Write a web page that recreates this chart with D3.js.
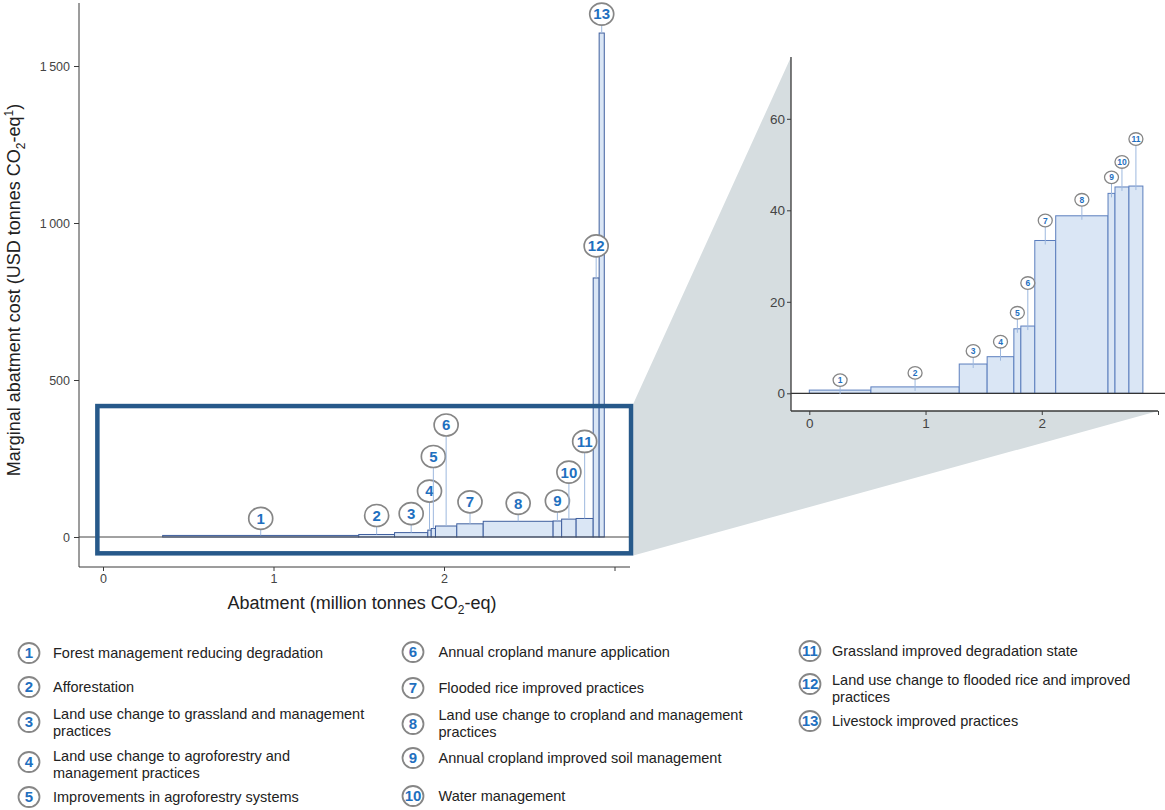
<!DOCTYPE html>
<html>
<head>
<meta charset="utf-8">
<script src="https://cdn.jsdelivr.net/npm/d3@7"></script>
<style>
  body { margin: 0; background: #fff; }
  svg { display: block; font-family: "Liberation Sans", Arial, Helvetica, sans-serif; }
</style>
</head>
<body>
<svg id="chart" width="1165" height="810"></svg>
<script>
// ---- Data -------------------------------------------------------------
// Mitigation measures, numbered in merit order (cheapest first)
const measureNames = [
  "Forest management reducing degradation",
  "Afforestation",
  "Land use change to grassland and management\npractices",
  "Land use change to agroforestry and\nmanagement practices",
  "Improvements in agroforestry systems",
  "Annual cropland manure application",
  "Flooded rice improved practices",
  "Land use change to cropland and management\npractices",
  "Annual cropland improved soil management",
  "Water management",
  "Grassland improved degradation state",
  "Land use change to flooded rice and improved\npractices",
  "Livestock improved practices"
];

// Overview panel, all 13 measures:
// cumulative abatement bounds (million tonnes CO2-eq) and marginal cost (USD / t CO2-eq)
const overviewEdges = [0.35, 1.50, 1.71, 1.905, 1.925, 1.95, 2.075, 2.23, 2.64, 2.69, 2.775, 2.875, 2.91, 2.94];
const overviewCosts = [5, 8, 14, 22, 27, 35, 42, 50, 51, 57, 59, 825, 1605];

// Detail panel, measures 1–11 (low-cost range)
const detailEdges = [0, 0.53, 1.29, 1.53, 1.76, 1.82, 1.94, 2.12, 2.57, 2.63, 2.75, 2.87];
const detailCosts = [0.7, 1.4, 6.4, 8.0, 14.1, 14.7, 33.4, 38.8, 43.7, 45.1, 45.3];

const overviewYTicks = [0, 500, 1000, 1500];
const detailYTicks = [0, 20, 40, 60];
const abatementTicks = [0, 1, 2, 3];

// Highlighted window of the overview that the detail panel enlarges (data units)
const windowAbatement = [-0.033, 3.097];
const windowCost = [-52, 417];

// ---- Layout -----------------------------------------------------------
const svg = d3.select("#chart");
const COLORS = {
  axis: "#3a3a3a", tickText: "#444", barFill: "#dae6f5", barStroke: "#5b7ebd",
  barStrokeMain: "#3f5f9e",
  leader: "#9db8de", ring: "#868686", number: "#1f70bf", frame: "#27598a",
  connector: "#d6dde0", text: "#222"
};

const ov = { left: 79, top: 3, bottom: 567, right: 630 };
const xMain = d3.scaleLinear().domain([0, 3]).range([103, 614.5]);
const yMain = d3.scaleLinear().domain([0, 1500]).range([537, 66]);

const dt = { left: 791, top: 57, bottom: 411, right: 1165 };
const xDet = d3.scaleLinear().domain([0, 3]).range([809.3, 1158]);
const yDet = d3.scaleLinear().domain([0, 60]).range([393.3, 118.8]);

// label lift above bar top (px), so narrow neighbours don't collide
const overviewLift = [17, 19, 19, 39, 72, 101, 22, 18, 20, 47, 77, 32, 19];
const detailLift = [10, 14, 13, 15, 16, 43, 20, 16, 16, 25, 47];

function toBars(edges, costs) {
  return costs.map((c, i) => ({ id: i + 1, x0: edges[i], x1: edges[i + 1], cost: c }));
}
const overviewBars = toBars(overviewEdges, overviewCosts);
const detailBars = toBars(detailEdges, detailCosts);

// ---- Connector between highlight window and detail panel --------------
const frameW = 4.5;
const winLeft = xMain(windowAbatement[0]);
const winRight = xMain(windowAbatement[1]);
const winTop = yMain(windowCost[1]);
const winBottom = yMain(windowCost[0]);

svg.append("polygon")
  .attr("points", [
    [winRight + frameW / 2, winTop - frameW / 2],
    [dt.left, dt.top],
    [dt.left, dt.bottom],
    [xDet(3), dt.bottom],
    [winRight + frameW / 2, winBottom + frameW / 2]
  ].map(p => p.join(",")).join(" "))
  .attr("fill", COLORS.connector);

// ---- Helpers ------------------------------------------------------------
function drawBars(g, bars, x, y, stroke) {
  g.selectAll("rect.bar").data(bars).join("rect")
    .attr("class", "bar")
    .attr("x", d => x(d.x0))
    .attr("width", d => Math.max(0.5, x(d.x1) - x(d.x0)))
    .attr("y", d => y(d.cost))
    .attr("height", d => Math.max(0.5, y(0) - y(d.cost)))
    .attr("fill", COLORS.barFill)
    .attr("stroke", stroke)
    .attr("stroke-width", 1);
}

function drawCallouts(g, bars, x, y, lift, rx, ry, fontSize, ringWidth, sink) {
  const items = g.selectAll("g.callout").data(bars).join("g").attr("class", "callout")
    .attr("transform", (d, i) => {
      const cx = (x(d.x0) + x(d.x1)) / 2;
      const cy = y(d.cost) - lift[i];
      return `translate(${cx},${cy})`;
    });
  items.append("line")
    .attr("x1", 0).attr("x2", 0)
    .attr("y1", ry)
    .attr("y2", (d, i) => lift[i] + sink)
    .attr("stroke", COLORS.leader).attr("stroke-width", 1);
  items.append("ellipse")
    .attr("rx", rx).attr("ry", ry)
    .attr("fill", "#fff")
    .attr("stroke", COLORS.ring).attr("stroke-width", ringWidth);
  items.append("text")
    .attr("text-anchor", "middle").attr("dy", "0.36em")
    .attr("font-size", fontSize).attr("font-weight", "bold")
    .attr("fill", COLORS.number)
    .text(d => d.id);
}

// ---- Overview panel -----------------------------------------------------
const gMain = svg.append("g");

drawBars(gMain, overviewBars, xMain, yMain, COLORS.barStrokeMain);

gMain.append("line")
  .attr("x1", ov.left).attr("x2", ov.right)
  .attr("y1", yMain(0)).attr("y2", yMain(0))
  .attr("stroke", "#444").attr("stroke-width", 1);

drawCallouts(gMain, overviewBars, xMain, yMain, overviewLift, 12, 11, 15, 1.7, 0);

// highlight window
gMain.append("rect")
  .attr("x", winLeft).attr("y", winTop)
  .attr("width", winRight - winLeft).attr("height", winBottom - winTop)
  .attr("fill", "none").attr("stroke", COLORS.frame).attr("stroke-width", frameW);

// axes
const thinSpace = v => v >= 1000 ? d3.format(",")(v).replace(",", "\u2009") : String(v);
const yAxisMain = gMain.append("g")
  .attr("transform", `translate(${ov.left},0)`)
  .call(d3.axisLeft(yMain).tickValues(overviewYTicks).tickSize(5).tickPadding(4).tickFormat(thinSpace));
const xAxisMain = gMain.append("g")
  .attr("transform", `translate(0,${ov.bottom})`)
  .call(d3.axisBottom(xMain).tickValues(abatementTicks).tickSize(4).tickPadding(3)
    .tickFormat(d => d === 3 ? "" : d));
[yAxisMain, xAxisMain].forEach(a => {
  a.select(".domain").remove();
  a.selectAll("line").attr("stroke", COLORS.axis);
  a.selectAll("text").attr("fill", COLORS.tickText).attr("font-size", 12.5)
    .attr("font-family", "Liberation Sans, Arial, sans-serif");
});
gMain.append("line").attr("x1", ov.left).attr("x2", ov.left)
  .attr("y1", ov.top).attr("y2", ov.bottom).attr("stroke", COLORS.axis);
gMain.append("line").attr("x1", ov.left).attr("x2", ov.right)
  .attr("y1", ov.bottom).attr("y2", ov.bottom).attr("stroke", COLORS.axis);

// axis titles
const yTitle = svg.append("text")
  .attr("transform", "translate(20,290) rotate(-90)")
  .attr("text-anchor", "middle").attr("font-size", 18).attr("fill", COLORS.text);
yTitle.append("tspan").text("Marginal abatment cost (USD tonnes CO");
yTitle.append("tspan").attr("font-size", 12).attr("dy", 5).text("2");
yTitle.append("tspan").attr("dy", -5).text("-eq");
yTitle.append("tspan").attr("font-size", 12).attr("dy", -7).text("1");
yTitle.append("tspan").attr("dy", 7).text(")");

const xTitle = svg.append("text")
  .attr("x", 362).attr("y", 609)
  .attr("text-anchor", "middle").attr("font-size", 18).attr("fill", COLORS.text);
xTitle.append("tspan").text("Abatment (million tonnes CO");
xTitle.append("tspan").attr("font-size", 12).attr("dy", 5).text("2");
xTitle.append("tspan").attr("dy", -5).text("-eq)");

// ---- Detail panel -------------------------------------------------------
const gDet = svg.append("g");

drawBars(gDet, detailBars, xDet, yDet, COLORS.barStroke);

gDet.append("line")
  .attr("x1", dt.left).attr("x2", dt.right)
  .attr("y1", yDet(0)).attr("y2", yDet(0))
  .attr("stroke", "#333").attr("stroke-width", 1.2);

drawCallouts(gDet, detailBars, xDet, yDet, detailLift, 7, 6.3, 8.5, 1.3, 4);

const yAxisDet = gDet.append("g")
  .attr("transform", `translate(${dt.left},0)`)
  .call(d3.axisLeft(yDet).tickValues(detailYTicks).tickSize(4).tickPadding(2));
const xAxisDet = gDet.append("g")
  .attr("transform", `translate(0,${dt.bottom})`)
  .call(d3.axisBottom(xDet).tickValues(abatementTicks).tickSize(4).tickPadding(3)
    .tickFormat(d => d === 3 ? "" : d));
[yAxisDet, xAxisDet].forEach(a => {
  a.select(".domain").remove();
  a.selectAll("line").attr("stroke", COLORS.axis);
  a.selectAll("text").attr("fill", COLORS.tickText).attr("font-size", 13.5)
    .attr("font-family", "Liberation Sans, Arial, sans-serif");
});
gDet.append("line").attr("x1", dt.left).attr("x2", dt.left)
  .attr("y1", dt.top).attr("y2", dt.bottom).attr("stroke", COLORS.axis).attr("stroke-width", 1.3);
gDet.append("line").attr("x1", dt.left).attr("x2", xDet(3))
  .attr("y1", dt.bottom).attr("y2", dt.bottom).attr("stroke", COLORS.axis).attr("stroke-width", 1.3);

// ---- Legend -------------------------------------------------------------
const legendCols = [{ cx: 29, tx: 53 }, { cx: 413, tx: 438.5 }, { cx: 810, tx: 832 }];
const legendCircleY = [653, 687, 722, 762, 797, 652, 688, 724, 758, 796, 651, 684, 721];
const legendTextY = [653, 687, 713.5, 756, 797, 652, 688, 715, 758, 796, 651, 679.5, 721];
const lineGap = 17;

const legend = svg.append("g").selectAll("g").data(measureNames).join("g");
legend.append("ellipse")
  .attr("cx", (d, i) => legendCols[i < 5 ? 0 : i < 10 ? 1 : 2].cx)
  .attr("cy", (d, i) => legendCircleY[i])
  .attr("rx", 10.5).attr("ry", 10)
  .attr("fill", "#fff").attr("stroke", COLORS.ring).attr("stroke-width", 1.8);
legend.append("text")
  .attr("x", (d, i) => legendCols[i < 5 ? 0 : i < 10 ? 1 : 2].cx)
  .attr("y", (d, i) => legendCircleY[i])
  .attr("dy", "0.36em").attr("text-anchor", "middle")
  .attr("font-size", 15).attr("font-weight", "bold").attr("fill", COLORS.number)
  .text((d, i) => i + 1);
legend.each(function (d, i) {
  const col = legendCols[i < 5 ? 0 : i < 10 ? 1 : 2];
  const t = d3.select(this).append("text")
    .attr("font-size", 14.5).attr("fill", COLORS.text);
  d.split("\n").forEach((line, k) => {
    t.append("tspan").attr("x", col.tx)
      .attr("y", legendTextY[i] + k * lineGap).attr("dy", "0.36em").text(line);
  });
});
</script>
</body>
</html>
